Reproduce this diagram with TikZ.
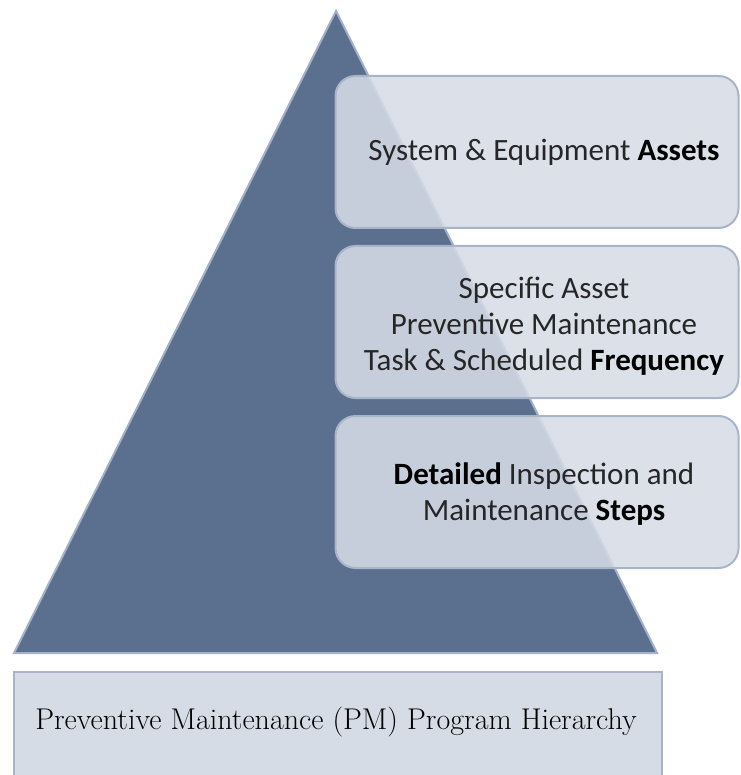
\documentclass[tikz,border=0pt]{standalone}
\usepackage{fontspec}
\newfontfamily\tierfont{Carlito}
\definecolor{pyrfill}{HTML}{5B6F8F}
\definecolor{pyredge}{HTML}{A3B2C8}
\definecolor{tierfill}{HTML}{D6DCE6}
\definecolor{tieredge}{HTML}{A8B5C9}
\definecolor{basefill}{HTML}{D6DCE6}
\definecolor{tierink}{HTML}{262626}
\begin{document}
\begin{tikzpicture}[x=1pt,y=-1pt]
\tikzset{
  pyramid/.style={fill=pyrfill, draw=pyredge, line width=2pt, line join=miter},
  tier/.style={draw=tieredge, line width=2pt, fill=tierfill, fill opacity=0.88,
    rounded corners=20pt, minimum width=403pt, minimum height=152pt, inner sep=0pt},
  tiertext/.style={font=\tierfont\fontsize{31}{36}\selectfont, align=center, text=tierink},
  basebox/.style={draw=tieredge, line width=2pt, fill=basefill, minimum width=648pt,
    minimum height=120pt, inner sep=0pt},
  basetext/.style={font=\fontsize{30}{36}\selectfont, text=black}
}
\newcommand{\keyword}[1]{\textcolor{black}{\textbf{#1}}}
\useasboundingbox (0,0) rectangle (740,775);

% pyramid
\draw[pyramid] (336,11) -- (657,653) -- (14,653) -- cycle;

% tiers
\node[tier] (t1) at (537,152) {};
\node[tier] (t2) at (537,322) {};
\node[tier] (t3) at (537,492) {};

\node[tiertext] (t1txt) at ([xshift=7pt]t1.center) {System \& Equipment \keyword{Assets}};
\node[tiertext] (t2txt) at ([xshift=7pt,yshift=-4pt]t2.center) {Specific Asset\\Preventive Maintenance\\Task \& Scheduled \keyword{Frequency}};
\node[tiertext] (t3txt) at ([xshift=7pt,yshift=-2pt]t3.center) {\keyword{Detailed} Inspection and\\Maintenance \keyword{Steps}};

% base caption
\node[basebox, anchor=north west] (base) at (13,671) {};
\node[basetext] (basetxt) at (336,722) {Preventive Maintenance (PM) Program Hierarchy};
\end{tikzpicture}
\end{document}
